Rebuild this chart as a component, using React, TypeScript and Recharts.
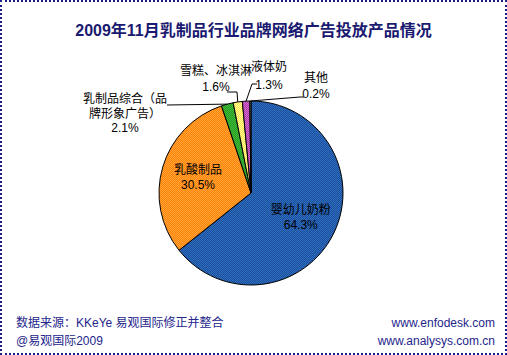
import { PieChart, Pie, Cell } from "recharts";

const categories = [
  "婴幼儿奶粉",
  "乳酸制品",
  "乳制品综合（品牌形象广告）",
  "雪糕、冰淇淋",
  "液体奶",
  "其他",
];
const shares = [64.3, 30.5, 2.1, 1.6, 1.3, 0.2];
const valueLabels = ["64.3%", "30.5%", "2.1%", "1.6%", "1.3%", "0.2%"];

const data = categories.map((name, i) => ({ name, value: shares[i] }));

// checker colours, imitating the dithered fills of the original
const fills = [
  { id: "pBlue", a: "#1b4d98", b: "#2e6fc2" },
  { id: "pOrange", a: "#ff8200", b: "#ffa43a" },
  { id: "pGreen", a: "#1f9a22", b: "#48bb3a" },
  { id: "pYellow", a: "#ffe34a", b: "#ffff9c" },
  { id: "pPurple", a: "#a83ca8", b: "#dc66d0" },
  { id: "pGrey", a: "#8a8a8a", b: "#b0b0b0" },
];

const CX = 246;
const CY = 188;
const R = 92;
const RAD = Math.PI / 180;

// text lines + leader elbows for the small outer slices, relative to pie centre
const outerLayout: Record<
  number,
  { lines: string[]; x: number; y: number; gap: number; leader: [number, number][] }
> = {
  2: { lines: ["乳制品综合（品", "牌形象广告）", "2.1%"], x: -126, y: -94, gap: 14.5, leader: [[-84, -88]] },
  3: { lines: ["雪糕、冰淇淋", "1.6%"], x: -35, y: -122, gap: 16, leader: [[-14, -101], [-24, -101]] },
  4: { lines: ["液体奶", "1.3%"], x: 18, y: -126, gap: 18, leader: [[1, -109], [6, -109]] },
  5: { lines: ["其他", "0.2%"], x: 65, y: -115, gap: 16, leader: [[49, -96], [53, -96]] },
};

const labelFont = "'Liberation Sans', 'Noto Sans CJK SC', sans-serif";

function renderLabel(props: any) {
  const { index, midAngle, cx, cy, outerRadius } = props;
  const cos = Math.cos(-midAngle * RAD);
  const sin = Math.sin(-midAngle * RAD);

  if (index < 2) {
    const r = outerRadius * 0.6;
    const x = cx + r * cos;
    const y = cy + r * sin;
    const name = index === 0 ? "婴幼儿奶粉" : "乳酸制品";
    return (
      <g key={`lbl-${index}`}>
        <text x={x} y={y - 7} textAnchor="middle" dominantBaseline="central" fontSize={12} fill="#000" fontFamily={labelFont}>
          {name}
        </text>
        <text x={x} y={y + 8} textAnchor="middle" dominantBaseline="central" fontSize={12} fill="#000" fontFamily={labelFont}>
          {valueLabels[index]}
        </text>
      </g>
    );
  }

  const cfg = outerLayout[index];
  const ex = cx + outerRadius * cos;
  const ey = cy + outerRadius * sin;
  const pts = [[ex, ey], ...cfg.leader.map(([dx, dy]) => [cx + dx, cy + dy])]
    .map((p) => p.join(","))
    .join(" ");
  return (
    <g key={`lbl-${index}`}>
      <polyline points={pts} fill="none" stroke="#000" strokeWidth={1} />
      {cfg.lines.map((t, i) => (
        <text
          key={i}
          x={cx + cfg.x}
          y={cy + cfg.y + i * cfg.gap}
          textAnchor="middle"
          dominantBaseline="central"
          fontSize={12}
          fill="#000"
          fontFamily={labelFont}
        >
          {t}
        </text>
      ))}
    </g>
  );
}

export default function App() {
  return (
    <div
      style={{
        position: "absolute",
        left: 0,
        top: 0,
        width: 507,
        height: 355,
        boxSizing: "border-box",
        border: "2px dotted #1c1c86",
        background: "#fff",
        fontFamily: labelFont,
      }}
    >
      <svg width={0} height={0} style={{ position: "absolute" }}>
        <defs>
          {fills.map((f) => (
            <pattern key={f.id} id={f.id} width={2} height={2} patternUnits="userSpaceOnUse">
              <rect x={0} y={0} width={2} height={2} fill={f.a} />
              <rect x={0} y={0} width={1} height={1} fill={f.b} />
              <rect x={1} y={1} width={1} height={1} fill={f.b} />
            </pattern>
          ))}
        </defs>
      </svg>

      <div
        style={{
          position: "absolute",
          left: -2,
          top: 15,
          width: 507,
          textAlign: "center",
          fontSize: 16,
          fontWeight: "bold",
          color: "#1a1a70",
        }}
      >
        2009年11月乳制品行业品牌网络广告投放产品情况
      </div>

      <div style={{ position: "absolute", left: -2, top: -2 }}>
        <PieChart width={507} height={355}>
          <Pie
            data={data}
            dataKey="value"
            nameKey="name"
            cx={CX}
            cy={CY}
            outerRadius={R}
            startAngle={90}
            endAngle={-270}
            stroke="#000"
            strokeWidth={1}
            label={renderLabel}
            labelLine={false}
            isAnimationActive={false}
          >
            {data.map((d, i) => (
              <Cell key={d.name} fill={`url(#${fills[i].id})`} />
            ))}
          </Pie>
        </PieChart>
      </div>

      <div
        style={{
          position: "absolute",
          left: 14,
          top: 312,
          fontSize: 12,
          lineHeight: "18px",
          color: "#25258c",
        }}
      >
        <div>数据来源：KKeYe 易观国际修正并整合</div>
        <div>@易观国际2009</div>
      </div>
      <div
        style={{
          position: "absolute",
          right: 10,
          top: 312,
          fontSize: 12,
          lineHeight: "18px",
          color: "#25258c",
          textAlign: "right",
        }}
      >
        <div>www.enfodesk.com</div>
        <div>www.analysys.com.cn</div>
      </div>
    </div>
  );
}
